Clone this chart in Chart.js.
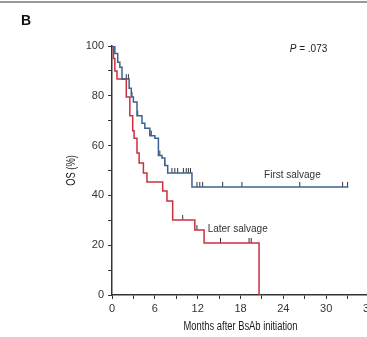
<!DOCTYPE html>
<html>
<head>
<meta charset="utf-8">
<script src="https://cdn.jsdelivr.net/npm/chart.js@4"></script>
<style>
  html, body { margin: 0; padding: 0; background: #fff; overflow: hidden; }
  #wrap { width: 380px; height: 337px; }
</style>
</head>
<body>
<div id="wrap"><canvas id="km" width="380" height="337"></canvas></div>
<script>
// Kaplan-Meier steps (months, OS %)
const firstTimes = [0, 0.4, 0.8, 1.1, 1.4, 2.4, 2.7, 3.0, 3.5, 4.2, 4.6, 5.3, 6.0, 6.5, 7.0, 7.4, 7.8, 11.2, 33.1];
const firstOS    = [100, 97, 93.5, 91.5, 86.7, 83, 79.5, 77.5, 72, 69, 67, 64, 63, 56, 55, 52, 49, 43.4, 43.4];
const laterTimes = [0, 0.2, 0.4, 0.7, 2.0, 2.5, 2.9, 3.1, 3.5, 3.8, 4.4, 4.9, 7.1, 7.7, 8.5, 11.6, 12.9, 20.6];
const laterOS    = [100, 95, 90, 86.7, 79.5, 72, 66, 63, 57, 53, 49, 45.4, 41.8, 37.8, 30.1, 26.1, 20.9, 0];

// censored observations
const firstCensT = [2.0, 2.3, 2.8, 3.6, 5.3, 5.5, 6.7, 7.4, 8.4, 8.8, 9.2, 10.0, 10.4, 10.7, 11.0, 11.9, 12.3, 12.7, 15.5, 18.2, 26.3, 32.3, 33.0];
const firstCensY = [86.7, 86.7, 79.5, 72, 64, 64, 56, 52, 49, 49, 49, 49, 49, 49, 49, 43.4, 43.4, 43.4, 43.4, 43.4, 43.4, 43.4, 43.4];
const laterCensT = [9.9, 11.9, 15.2, 19.2, 19.5];
const laterCensY = [30.1, 26.1, 20.9, 20.9, 20.9];

const xTicks = [0, 6, 12, 18, 24, 30, 36];
const yTicks = [0, 20, 40, 60, 80, 100];
const xTitle = 'Months after BsAb initiation';
const yTitle = 'OS (%)';

const blue = '#3d6190';
const red = '#c9303f';
const ink = '#333';

function pts(xs, ys, lift) {
    return xs.map((x, i) => ({ x: x, y: ys[i] + (lift || 0) }));
}

// condensed text: squeeze horizontally, no narrow font installed
function narrowText(ctx, text, x, y, rot) {
    ctx.save();
    ctx.translate(x, y);
    ctx.rotate(rot);
    ctx.scale(0.78, 1);
    ctx.fillText(text, 0, 0);
    ctx.restore();
}

const annotations = {
    id: 'annotations',
    afterDraw: chart => {
        const ctx = chart.ctx;
        const xs = chart.scales.x, ys = chart.scales.y;
        const area = chart.chartArea;
        ctx.save();
        // top rule
        ctx.strokeStyle = '#777';
        ctx.lineWidth = 1.5;
        ctx.beginPath();
        ctx.moveTo(0, 2);
        ctx.lineTo(chart.width, 2);
        ctx.stroke();
        // panel letter
        ctx.fillStyle = '#111';
        ctx.font = 'bold 14px Arial, "Liberation Sans"';
        ctx.textAlign = 'left';
        ctx.textBaseline = 'middle';
        ctx.fillText('B', 21, 21);
        // P value
        ctx.fillStyle = '#222';
        ctx.font = 'italic 10px Arial, "Liberation Sans"';
        let px = xs.getPixelForValue(24.9), py = ys.getPixelForValue(98.8);
        ctx.fillText('P', px, py);
        const w = ctx.measureText('P').width;
        ctx.font = '10px Arial, "Liberation Sans"';
        ctx.fillText(' = .073', px + w, py);
        // curve labels
        ctx.fillStyle = ink;
        ctx.fillText('First salvage', xs.getPixelForValue(21.3), ys.getPixelForValue(48.2));
        ctx.fillText('Later salvage', xs.getPixelForValue(13.4), ys.getPixelForValue(26.5));
        // axis titles
        ctx.fillStyle = '#1a1a1a';
        ctx.font = '500 12px Arial, "Liberation Sans"';
        ctx.textAlign = 'center';
        narrowText(ctx, xTitle, (112 + 369) / 2, 327, 0);
        narrowText(ctx, yTitle, 72, (area.top + area.bottom) / 2, -Math.PI / 2);
        ctx.restore();
    }
};

new Chart(document.getElementById('km'), {
    type: 'line',
    data: {
        datasets: [
            { label: 'First salvage', data: pts(firstTimes, firstOS), borderColor: blue, borderWidth: 1.5, stepped: true, pointRadius: 0, fill: false },
            { label: 'Later salvage', data: pts(laterTimes, laterOS), borderColor: red, borderWidth: 1.5, stepped: true, pointRadius: 0, fill: false },
            { type: 'scatter', data: pts(firstCensT, firstCensY, 1), pointStyle: 'line', rotation: 90, pointRadius: 2.5, borderColor: ink, borderWidth: 1, showLine: false },
            { type: 'scatter', data: pts(laterCensT, laterCensY, 1), pointStyle: 'line', rotation: 90, pointRadius: 2.5, borderColor: ink, borderWidth: 1, showLine: false }
        ]
    },
    options: {
        responsive: false,
        animation: false,
        layout: { padding: { top: 46, right: 11, left: 0, bottom: 0 } },
        plugins: { legend: { display: false }, tooltip: { enabled: false } },
        scales: {
            x: {
                type: 'linear',
                min: 0,
                max: 36,
                afterFit: s => { s.height = 42; },
                afterBuildTicks: s => { s.ticks = [0, 3, 6, 9, 12, 15, 18, 21, 24, 27, 30, 33, 36].map(v => ({ value: v })); },
                ticks: {
                    callback: v => xTicks.includes(v) ? String(v) : '',
                    autoSkip: false, maxRotation: 0, padding: 3,
                    color: ink, font: { family: 'Arial, "Liberation Sans"', size: 11 }
                },
                grid: { drawOnChartArea: false, drawTicks: true, tickLength: 4, color: ink, lineWidth: 1 },
                border: { display: true, color: ink, width: 1.5 }
            },
            y: {
                type: 'linear',
                min: 0,
                max: 100,
                afterFit: s => { s.width = 112; },
                afterBuildTicks: s => { s.ticks = [0, 10, 20, 30, 40, 50, 60, 70, 80, 90, 100].map(v => ({ value: v })); },
                ticks: {
                    callback: v => yTicks.includes(v) ? String(v) : '',
                    autoSkip: false, padding: 4,
                    color: ink, font: { family: 'Arial, "Liberation Sans"', size: 11 }
                },
                grid: { drawOnChartArea: false, drawTicks: true, tickLength: 4, color: ink, lineWidth: 1 },
                border: { display: true, color: ink, width: 1.5 }
            }
        }
    },
    plugins: [annotations]
});
</script>
</body>
</html>
